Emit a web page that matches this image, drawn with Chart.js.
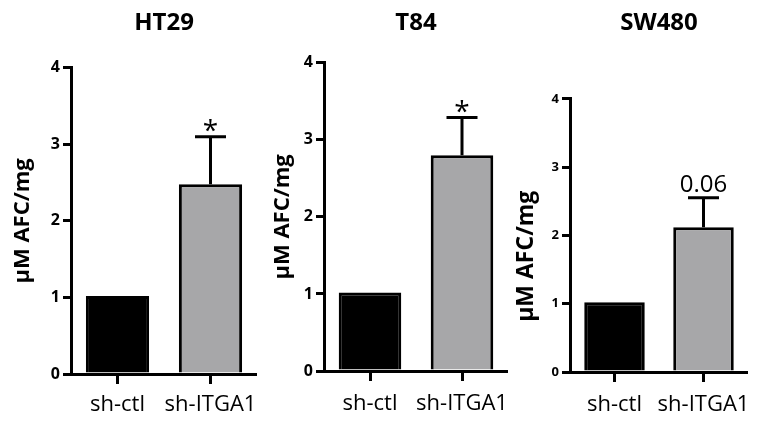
<!DOCTYPE html>
<html>
<head>
<meta charset="utf-8">
<script src="https://cdn.jsdelivr.net/npm/chart.js@4.4.0/dist/chart.umd.min.js"></script>
<style>
body { margin: 0; background: #fff; width: 761px; height: 422px; position: relative; overflow: hidden; }
canvas { position: absolute; top: 0; }
</style>
</head>
<body>
<canvas id="ht29" width="257" height="422" style="left:0px"></canvas>
<canvas id="t84" width="250" height="422" style="left:258px"></canvas>
<canvas id="sw480" width="238" height="422" style="left:510px"></canvas>
<script>
// groups on the x axis, same for all three cell lines
var groups = ['sh-ctl', 'sh-ITGA1'];
var yTicks = [0, 1, 2, 3, 4];
var yTitle = 'μM AFC/mg';

// bar heights, upper error (SEM) and significance marks
var ht29Values = [1.02, 2.48];
var ht29Errors = [0, 0.62];
var ht29Marks = ['', '*'];

var t84Values = [1.02, 2.80];
var t84Errors = [0, 0.49];
var t84Marks = ['', '*'];

var sw480Values = [1.02, 2.12];
var sw480Errors = [0, 0.43];
var sw480Marks = ['', '0.06'];

var FONT = "'Open Sans', sans-serif";

//draws the one sided error bars and the mark above them
var errorBars = {
	id: 'errorBars',
	afterDatasetsDraw: function(chart, args, opts) {
		var ctx = chart.ctx;
		var yScale = chart.scales.y;
		var ds = chart.data.datasets[0];
		chart.getDatasetMeta(0).data.forEach(function(bar, i) {
			if (!ds.errors[i]) return;
			var top = yScale.getPixelForValue(ds.data[i] + ds.errors[i]);
			ctx.save();
			ctx.strokeStyle = '#000';
			ctx.lineWidth = 3;
			ctx.beginPath();
			ctx.moveTo(bar.x, bar.y);
			ctx.lineTo(bar.x, top);
			ctx.moveTo(bar.x - opts.cap / 2, top);
			ctx.lineTo(bar.x + opts.cap / 2, top);
			ctx.stroke();
			if (ds.marks[i]) {
				ctx.fillStyle = '#000';
				ctx.font = opts.font;
				ctx.textAlign = 'center';
				ctx.textBaseline = 'alphabetic';
				ctx.fillText(ds.marks[i], bar.x, top - opts.gap);
			}
			ctx.restore();
		});
	}
};

function makeChart(id, title, values, errors, marks, cfg)
{
	return new Chart(document.getElementById(id), {
		type: 'bar',
		data: {
			labels: groups,
			datasets: [{
				data: values,
				errors: errors,
				marks: marks,
				backgroundColor: ['#000000', '#a7a7a9'],
				borderColor: '#000',
				borderWidth: 3,
				inflateAmount: 0,
				barPercentage: 0.68,
				categoryPercentage: 1
			}]
		},
		options: {
			responsive: false,
			animation: false,
			layout: { padding: 0 },
			plugins: {
				legend: { display: false },
				tooltip: { enabled: false },
				title: {
					display: true,
					text: title,
					color: '#000',
					fullSize: false,
					font: { family: FONT, size: 24, weight: 'bold', lineHeight: 1.2 },
					padding: { top: 9, bottom: cfg.titleGap }
				},
				errorBars: { cap: 31, font: cfg.markFont, gap: cfg.markGap }
			},
			scales: {
				x: {
					offset: true,
					//fixed height, and no side padding so the labels do not squeeze the plot
					afterFit: function(s) { s.height = cfg.xHeight; s.paddingLeft = 0; s.paddingRight = 0; },
					border: { display: true, color: '#000', width: 3 },
					grid: { offset: false, drawOnChartArea: false, drawTicks: true, color: '#000', tickColor: '#000', lineWidth: 3, tickWidth: 3, tickLength: 10 },
					ticks: { color: '#000', padding: cfg.xPad, maxRotation: 0, minRotation: 0, autoSkip: false, font: { family: FONT, size: 22 } }
				},
				y: {
					min: 0,
					max: 4,
					afterBuildTicks: function(s) { s.ticks = yTicks.map(function(v) { return { value: v }; }); },
					afterFit: function(s) { s.width = cfg.yWidth; },
					border: { display: true, color: '#000', width: 3 },
					grid: { drawOnChartArea: false, drawTicks: true, color: '#000', tickColor: '#000', lineWidth: 3, tickWidth: 3, tickLength: 8 },
					ticks: { color: '#000', padding: 3, font: { family: FONT, size: cfg.tickSize, weight: 'bold' } },
					title: {
						display: true,
						text: cfg.yText,
						color: '#000',
						font: { family: FONT, size: cfg.yTitleSize, weight: 'bold', lineHeight: 1.2 },
						padding: { top: cfg.yTitlePad, bottom: 0 }
					}
				}
			}
		},
		plugins: [errorBars]
	});
}

makeChart('ht29', 'HT29', ht29Values, ht29Errors, ht29Marks, {
	titleGap: 30, xHeight: 48, xPad: 8, yWidth: 71, tickSize: 16,
	yText: yTitle, yTitleSize: 22, yTitlePad: 10, markFont: '28px ' + FONT, markGap: -3
});
makeChart('t84', 'T84', t84Values, t84Errors, t84Marks, {
	titleGap: 25, xHeight: 51, xPad: 10, yWidth: 66, tickSize: 16,
	yText: yTitle, yTitleSize: 22, yTitlePad: 12, markFont: '28px ' + FONT, markGap: -3
});
makeChart('sw480', 'SW480', sw480Values, sw480Errors, sw480Marks, {
	titleGap: 61, xHeight: 50, xPad: 10, yWidth: 60, tickSize: 13,
	yText: yTitle + '\u00a0\u00a0\u00a0\u00a0\u00a0\u00a0\u00a0', yTitleSize: 23, yTitlePad: 3, markFont: '24px ' + FONT, markGap: 6
});
</script>
</body>
</html>
